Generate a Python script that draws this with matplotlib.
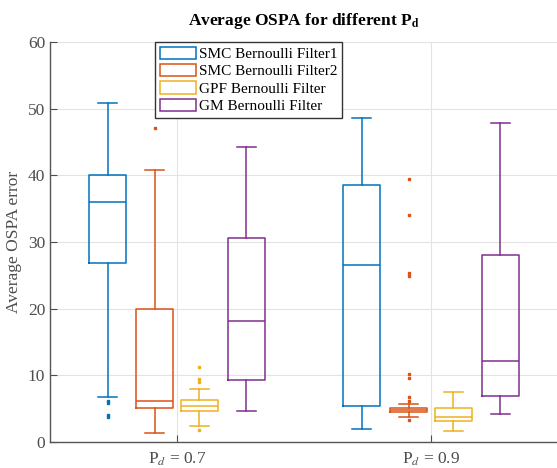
import matplotlib
matplotlib.use('Agg')
import matplotlib.pyplot as plt
from matplotlib.patches import Patch

plt.rcParams['font.family'] = ['Liberation Serif', 'DejaVu Serif']
plt.rcParams['mathtext.fontset'] = 'stix'

# data
filters = ['SMC Bernoulli Filter1', 'SMC Bernoulli Filter2',
           'GPF Bernoulli Filter', 'GM Bernoulli Filter']
colors = ['#0072BD', '#D95319', '#EDB120', '#7E2F8E']
group_pos = [0.7, 0.9]
group_labels = [r'P$_d$ = 0.7', r'P$_d$ = 0.9']

# per group, per filter: [whislo, q1, med, q3, whishi]
pd07 = [[6.8, 26.8, 36.0, 40.0, 50.8],
        [1.35, 5.05, 6.2, 19.9, 40.8],
        [2.45, 4.7, 5.45, 6.3, 8.0],
        [4.6, 9.3, 18.2, 30.6, 44.2]]
pd09 = [[1.9, 5.45, 26.5, 38.5, 48.6],
        [3.75, 4.5, 4.8, 5.05, 5.65],
        [1.65, 3.1, 3.8, 5.05, 7.45],
        [4.25, 6.85, 12.1, 28.0, 47.8]]
fliers07 = [[6.2, 5.8, 4.1, 3.7],
            [47.1],
            [11.2, 9.5, 9.0, 1.8],
            []]
fliers09 = [[],
            [39.4, 34.1, 25.3, 24.9, 10.2, 9.6, 6.7, 6.1, 3.3],
            [],
            []]

offsets = [-0.0547, -0.0177, 0.0177, 0.0547]
width = 0.029

fig = plt.figure(figsize=(5.57, 4.68), dpi=100)
ax = fig.add_axes([50 / 557, 26 / 468, 508 / 557, 400 / 468])

for g, (vals, fl) in enumerate([(pd07, fliers07), (pd09, fliers09)]):
    for k in range(4):
        lo, q1, med, q3, hi = vals[k]
        st = dict(whislo=lo, q1=q1, med=med, q3=q3, whishi=hi, fliers=fl[k])
        c = colors[k]
        ax.bxp([st], positions=[group_pos[g] + offsets[k]], widths=width,
               showfliers=True, manage_ticks=False,
               boxprops=dict(color=c, lw=1.1),
               whiskerprops=dict(color=c, lw=1.1, linestyle='-'),
               capprops=dict(color=c, lw=1.1),
               medianprops=dict(color=c, lw=1.1),
               flierprops=dict(marker='s', markersize=1.8, markerfacecolor=c,
                               markeredgecolor=c, linestyle='none'))

ax.set_xlim(0.6, 1.0)
ax.set_ylim(0, 60)
ax.set_xticks(group_pos)
ax.set_xticklabels(group_labels)
ax.set_yticks(range(0, 61, 10))
ax.grid(True, color='#e3e3e3', lw=0.8)
ax.set_axisbelow(True)
ax.tick_params(direction='in', length=5, colors='#4d4d4d', labelsize=12.5)
ax.tick_params(axis='x', pad=6)
for s in ['top', 'right']:
    ax.spines[s].set_visible(False)
for s in ['left', 'bottom']:
    ax.spines[s].set_color('#555555')
    ax.spines[s].set_linewidth(1.0)

ax.set_ylabel('Average OSPA error', fontsize=12.5, color='#4d4d4d', labelpad=4)
ax.set_title(r'Average OSPA for different P$_\mathbf{d}$', fontsize=12.5,
             fontweight='bold', pad=12)

handles = [Patch(facecolor='white', edgecolor=c, lw=1.1) for c in colors]
leg = ax.legend(handles, filters, loc='upper left', bbox_to_anchor=(0.207, 1.0),
                borderaxespad=0, fancybox=False, framealpha=1, fontsize=11,
                handlelength=2.35, handleheight=0.85, handletextpad=0.2,
                labelspacing=0.2, borderpad=0.3, edgecolor='#333333')
leg.get_frame().set_linewidth(1.0)

fig.savefig('out.png', dpi=100)
